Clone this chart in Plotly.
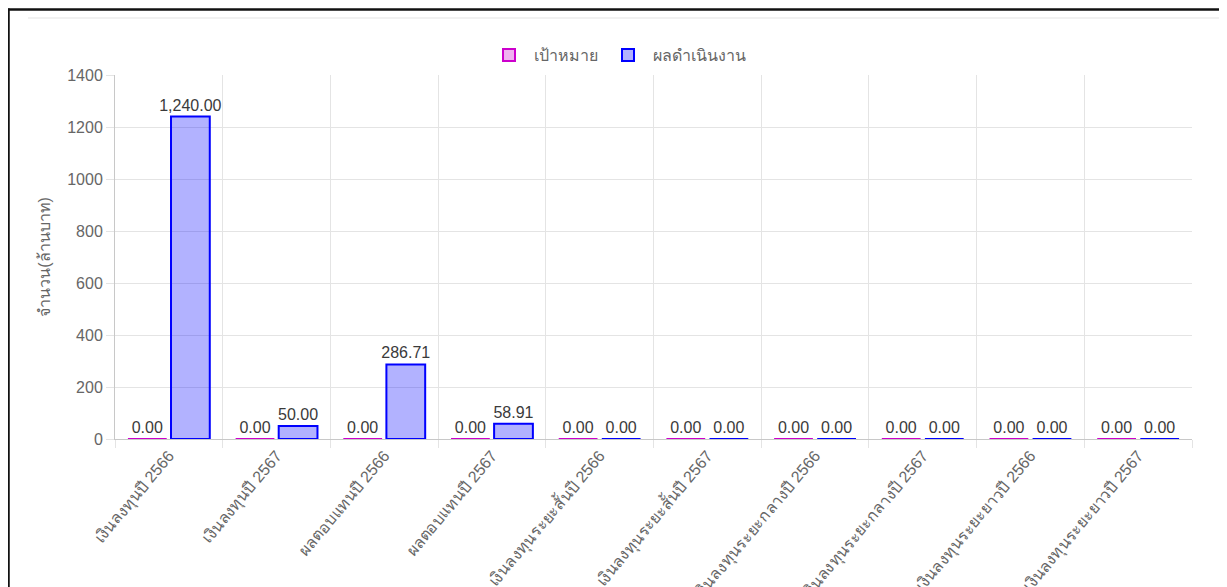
import plotly.graph_objects as go

categories = [
    "เงินลงทุนปี 2566",
    "เงินลงทุนปี 2567",
    "ผลตอบแทนปี 2566",
    "ผลตอบแทนปี 2567",
    "เงินลงทุนระยะสั้นปี 2566",
    "เงินลงทุนระยะสั้นปี 2567",
    "เงินลงทุนระยะกลางปี 2566",
    "เงินลงทุนระยะกลางปี 2567",
    "เงินลงทุนระยะยาวปี 2566",
    "เงินลงทุนระยะยาวปี 2567",
]
target = [0, 0, 0, 0, 0, 0, 0, 0, 0, 0]
actual = [1240.00, 50.00, 286.71, 58.91, 0, 0, 0, 0, 0, 0]
series_names = ["เป้าหมาย", "ผลดำเนินงาน"]
y_title = "จำนวน(ล้านบาท)"
y_ticks = [0, 200, 400, 600, 800, 1000, 1200, 1400]

FONT = "Arial, 'Liberation Sans', 'Noto Sans', sans-serif"
OFF = 8  # the page body margin that the browser adds
W, H = 1227 - OFF, 587 - OFF
ML, MR, MT, MB = 115 - OFF, 35, 75 - OFF, 148
PW, PH = W - ML - MR, H - MT - MB


def shown(vals):
    # zero-valued bars are drawn as a hairline (border only), like the original
    return [v if v > 0 else 1e-6 for v in vals]


def fmt(v):
    return f"{v:,.2f}"


fig = go.Figure()
styles = [
    ("rgba(204,0,204,0.3)", "rgb(204,0,204)"),
    ("rgba(0,0,255,0.3)", "rgb(0,0,255)"),
]
for name, vals, (fill, line) in zip(series_names, [target, actual], styles):
    fig.add_trace(go.Bar(
        name=name,
        x=categories,
        y=shown(vals),
        customdata=vals,
        text=[fmt(v) for v in vals],
        textposition="outside",
        constraintext="none",
        textfont=dict(size=16, color="#3a3a3a", family=FONT),
        cliponaxis=False,
        marker=dict(color=fill, line=dict(color=line, width=2)),
        hovertemplate="%{x}<br>" + name + ": %{customdata:,.2f}<extra></extra>",
    ))


def px_x(p):
    # p is a page pixel position
    return (p - OFF - ML) / PW


def px_y(p):
    return (H - MB - (p - OFF)) / PH


shapes = [
    # page frame (black) and card borders (light grey)
    dict(type="line", xref="paper", yref="paper", x0=px_x(7), x1=px_x(1240),
         y0=px_y(9.5), y1=px_y(9.5), line=dict(color="#111", width=2.5)),
    dict(type="line", xref="paper", yref="paper", x0=px_x(8.5), x1=px_x(8.5),
         y0=px_y(8.5), y1=px_y(600), line=dict(color="#111", width=2.5)),
    dict(type="line", xref="paper", yref="paper", x0=px_x(28), x1=px_x(1240),
         y0=px_y(18), y1=px_y(18), line=dict(color="#ececec", width=1.5)),
    dict(type="line", xref="paper", yref="paper", x0=px_x(1225.5), x1=px_x(1225.5),
         y0=px_y(11), y1=px_y(600), line=dict(color="#e6e6e6", width=1.5)),
]

fig.update_layout(
    width=W, height=H,
    margin=dict(l=ML, r=MR, t=MT, b=MB, autoexpand=False),
    paper_bgcolor="white", plot_bgcolor="white",
    font=dict(family=FONT, size=16, color="#666"),
    barmode="group", bargap=0.2, bargroupgap=0.1,
    showlegend=True,
    legend=dict(orientation="h", xref="container", yref="container",
                x=0.5, xanchor="center", y=1 - (55 - OFF) / H, yanchor="middle",
                font=dict(size=16, color="#666", family=FONT),
                itemwidth=40, bgcolor="rgba(0,0,0,0)"),
    shapes=shapes,
    xaxis=dict(
        type="category", tickson="boundaries", ticks="outside", ticklen=8,
        tickcolor="#e4e4e4", showgrid=True, gridcolor="#e4e4e4", gridwidth=1,
        showline=True, linecolor="#c8c8c8", linewidth=1,
        tickangle=-50, tickfont=dict(size=16, color="#666", family=FONT),
        range=[-0.5, len(categories) - 0.5],
    ),
    yaxis=dict(
        range=[0, 1400], tickvals=y_ticks, ticks="outside", ticklen=8,
        tickcolor="#e4e4e4", showgrid=True, gridcolor="#e4e4e4", gridwidth=1,
        showline=True, linecolor="#c8c8c8", linewidth=1, zeroline=False,
        tickfont=dict(size=16, color="#666", family=FONT),
        title=dict(text=y_title, font=dict(size=16, color="#666", family=FONT),
                   standoff=12),
    ),
)

fig.write_html("out.html")
